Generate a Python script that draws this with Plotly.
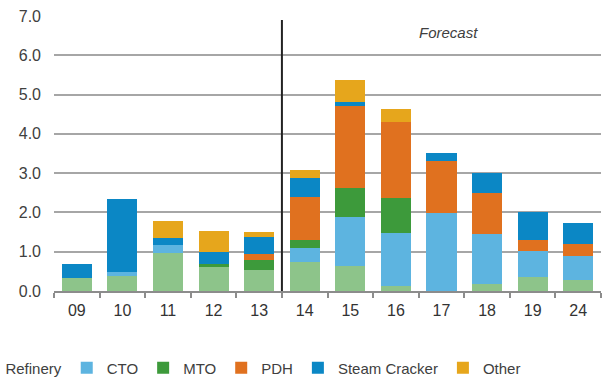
import plotly.graph_objects as go

categories = ["09", "10", "11", "12", "13", "14", "15", "16", "17", "18", "19", "24"]
refinery = [0.33, 0.38, 0.96, 0.62, 0.53, 0.74, 0.64, 0.13, 0.00, 0.19, 0.36, 0.29]
cto = [0.00, 0.11, 0.21, 0.00, 0.00, 0.35, 1.25, 1.34, 1.98, 1.27, 0.66, 0.59]
mto = [0.00, 0.00, 0.00, 0.06, 0.25, 0.22, 0.73, 0.90, 0.00, 0.00, 0.00, 0.00]
pdh = [0.00, 0.00, 0.00, 0.00, 0.16, 1.09, 2.10, 1.92, 1.32, 1.04, 0.28, 0.31]
steam_cracker = [0.37, 1.84, 0.19, 0.32, 0.44, 0.48, 0.10, 0.00, 0.21, 0.50, 0.72, 0.55]
other = [0.00, 0.00, 0.41, 0.53, 0.13, 0.21, 0.54, 0.34, 0.00, 0.00, 0.00, 0.00]

series = [
    ("Refinery", refinery, "#8dc48a"),
    ("CTO", cto, "#5db4e0"),
    ("MTO", mto, "#3d9a3b"),
    ("PDH", pdh, "#e0711f"),
    ("Steam Cracker", steam_cracker, "#0b87c5"),
    ("Other", other, "#e6a61c"),
]

y_ticks = [0, 1, 2, 3, 4, 5, 6, 7]
y_tick_labels = ["0.0", "1.0", "2.0", "3.0", "4.0", "5.0", "6.0", "7.0"]

FONT = "Liberation Sans, Arial, sans-serif"

fig = go.Figure()
for name, vals, color in series:
    fig.add_trace(go.Bar(
        x=categories, y=vals, name=name,
        marker=dict(color=color, line=dict(width=0)),
    ))

fig.update_layout(
    width=611, height=385,
    barmode="stack", bargap=0.34,
    plot_bgcolor="white", paper_bgcolor="white",
    margin=dict(l=54, r=10, t=16, b=94, autoexpand=False),
    font=dict(family=FONT, size=15, color="#404040"),
    legend=dict(
        orientation="h",
        x=-0.162, xanchor="left", y=-0.28, yanchor="middle",
        font=dict(size=15, color="#404040"), traceorder="normal",
        itemwidth=30,
    ),
)
fig.update_yaxes(
    range=[0, 7], tickvals=y_ticks, ticktext=y_tick_labels,
    showgrid=True, gridcolor="#a6a6a6", gridwidth=1.5,
    zeroline=False, showline=False, ticks="", ticklabelstandoff=12,
    tickfont=dict(size=16, color="#404040"), automargin=False,
)
fig.update_xaxes(
    type="category", showline=True, linecolor="#8c8c8c", linewidth=1.5,
    ticks="outside", tickson="boundaries", ticklen=5, tickcolor="#8c8c8c",
    tickwidth=1.5, ticklabelstandoff=4,
    tickfont=dict(size=16, color="#333333"), automargin=False,
)

fig.add_shape(type="line", xref="x", yref="y", x0=4.5, x1=4.5, y0=-0.12, y1=6.9,
              line=dict(color="#222222", width=2))
fig.add_annotation(text="<i>Forecast</i>", xref="x", yref="y", x=8.16, y=6.57,
                   showarrow=False, font=dict(size=15, color="#404040", family=FONT))

fig.write_html("out.html")
